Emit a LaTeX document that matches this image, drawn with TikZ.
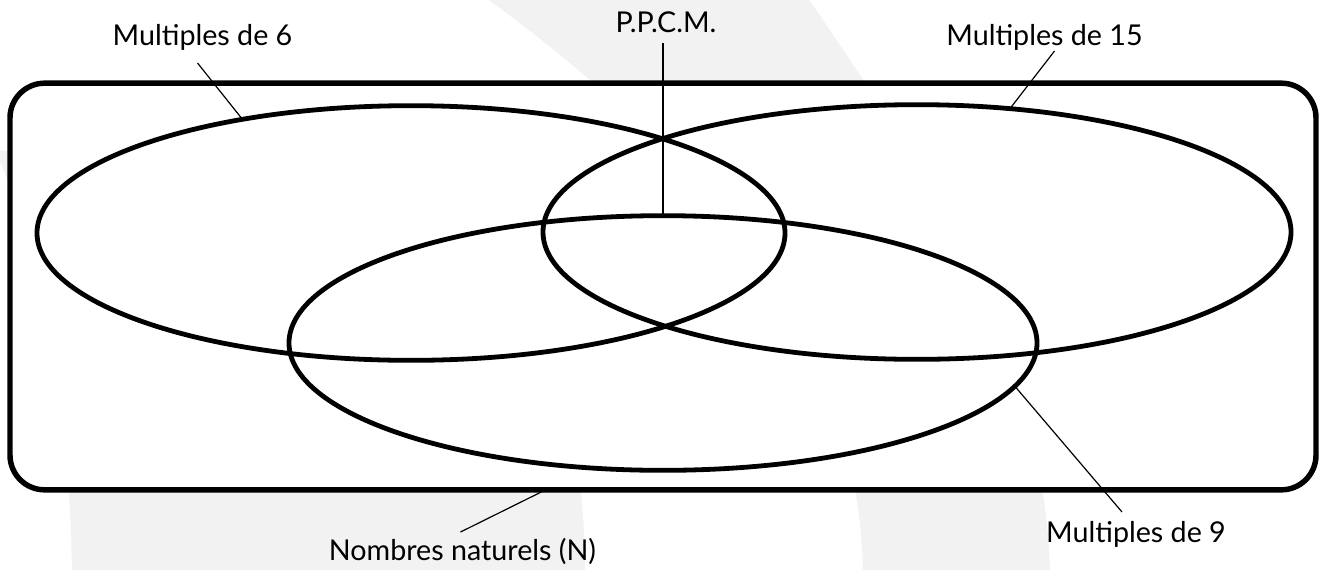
\documentclass[tikz,border=0pt]{standalone}
\usepackage{fontspec}
\setmainfont{Lato}
\usetikzlibrary{shapes.geometric,calc}
\definecolor{wm}{HTML}{F2F2F2}
\tikzset{
  vennset/.style={ellipse, draw, line width=3.6pt, inner sep=0pt, outer sep=0pt,
    minimum width=561pt, minimum height=191pt},
  univ/.style={rectangle, draw, fill=white, line width=4.1pt, rounded corners=26pt,
    inner sep=0pt, outer sep=0pt, minimum width=979.5pt, minimum height=305pt},
  lbl/.style={inner sep=0pt, font=\fontsize{21.5}{24}\selectfont},
  leader/.style={line width=0.9pt}
}
\begin{document}
\begin{tikzpicture}[x=0.75pt,y=-0.75pt]
\useasboundingbox (0,0) rectangle (1328,569);
\begin{scope}
\clip (0,0) rectangle (1328,569);
% watermark
\fill[wm] (482,-5) .. controls (640,110) and (860,300) .. (863,575)
  -- (1050,575) .. controls (1045,330) and (890,120) .. (806,-5) -- cycle;
\fill[wm] (-5,150) .. controls (40,250) and (70,400) .. (72,575)
  -- (585,575) .. controls (585,450) and (560,300) .. (450,200) -- (200,160) -- cycle;
\end{scope}
\node[univ] (nat) at (663,286.5) {};
\node[vennset] (e6) at (411,233) {};
\node[vennset] (e15) at (917,232) {};
\node[vennset] (e9) at (663,343) {};
% labels
\node[lbl, anchor=base] (m6) at (202.5,45) {Multiples de 6};
\node[lbl, anchor=base] (ppcm) at (666,32) {P.P.C.M.};
\node[lbl, anchor=base] (m15) at (1044.5,45) {Multiples de 15};
\node[lbl, anchor=base] (m9) at (1136,542) {Multiples de 9};
\node[lbl, anchor=base] (nb) at (462.5,560) {Nombres naturels (N)};
% leaders
\draw[leader] ($(m6.base)+(-5,18)$) -- (e6.146);
\draw[leader] ($(m15.base)+(10,6)$) -- (e15.53);
\draw[leader] ($(ppcm.base)+(-3,11)$) -- (e9.north);
\draw[leader] ($(m9.base)+(-14,-30)$) -- (e9.-7);
\draw[leader] ($(nb.base)+(-2,-28)$) -- (nat.240.3);
\end{tikzpicture}
\end{document}
